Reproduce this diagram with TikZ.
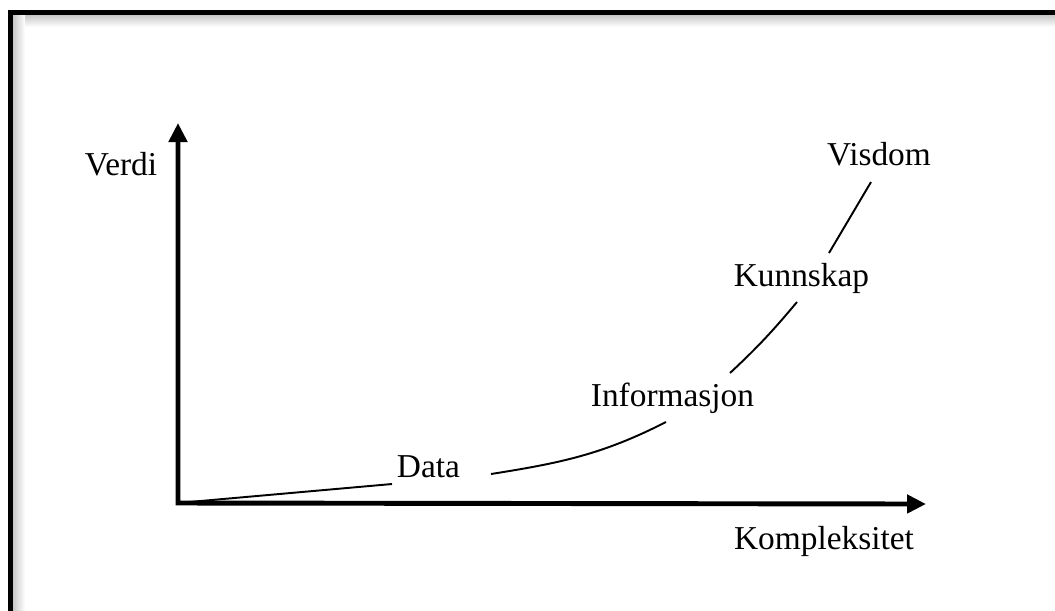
\documentclass[tikz,border=0pt]{standalone}
\usepackage{fontspec}
\setmainfont{Liberation Serif}
\usetikzlibrary{arrows.meta}
\tikzset{
  lbl/.style={font=\fontsize{19}{23}\selectfont, inner sep=0pt, anchor=base},
  axis/.style={line width=2.8pt, {Triangle[length=0.38cm,width=0.36cm]}-{Triangle[length=0.38cm,width=0.36cm]}},
  curve/.style={line width=1.1pt},
}
\begin{document}
\begin{tikzpicture}[x=0.02cm,y=-0.02cm]
\useasboundingbox (0,0) rectangle (1055,610);
% frame with inner shadow
\shade[top color=black!22, bottom color=white] (13,15) rectangle (1055,27);
\shade[left color=black!22, right color=white] (13,15) rectangle (25,610);
\draw[line width=2.8pt] (10.5,12.5) rectangle (1075,630);

\coordinate (o) at (178,503);
\coordinate (ytip) at (178,123);
\coordinate (xtip) at (926,504);

\node[lbl] (verdi) at (121,175) {Verdi};
\node[lbl] (kompl) at (824,549) {Kompleksitet};
\node[lbl] (data) at (428.5,477) {Data};
\node[lbl] (info) at (672.5,406) {Informasjon};
\node[lbl] (kunn) at (801.5,286) {Kunnskap};
\node[lbl] (visdom) at (879,165) {Visdom};

\coordinate (d1) at (392,484);
\coordinate (d2) at (491,474);
\coordinate (i1) at (666,422);
\coordinate (i2) at (730,373);
\coordinate (k1) at (797,302);
\coordinate (k2) at (829,253);
\coordinate (v1) at (871,182);

\draw[axis] (ytip)--(o)--(xtip);
\draw[curve] (o)--(d1);
\draw[curve] (d2) to[out=9,in=207] (i1);
\draw[curve] (i2) to[out=43,in=230] (k1);
\draw[curve] (k2)--(v1);
\end{tikzpicture}
\end{document}
